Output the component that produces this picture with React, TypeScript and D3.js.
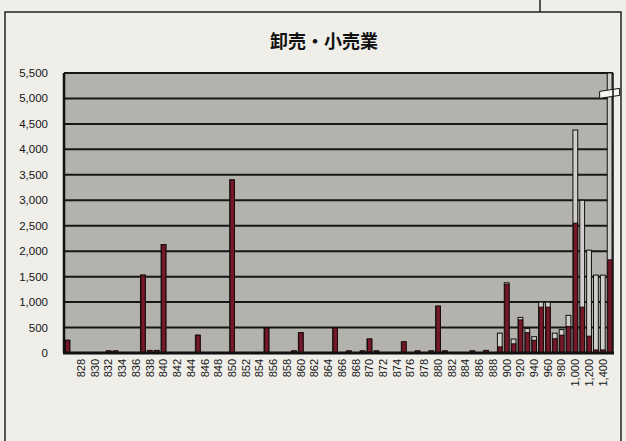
import React, { useEffect, useRef } from 'react';
import * as d3 from 'd3';

// hourly wage bins (yen); first bin has no printed label
const categories = [
  '826', '827', '828', '829', '830', '831', '832', '833', '834', '835',
  '836', '837', '838', '839', '840', '841', '842', '843', '844', '845',
  '846', '847', '848', '849', '850', '851', '852', '853', '854', '855',
  '856', '857', '858', '859', '860', '861', '862', '863', '864', '865',
  '866', '867', '868', '869', '870', '871', '872', '873', '874', '875',
  '876', '877', '878', '879', '880', '881', '882', '883', '884', '885',
  '886', '887', '888', '890', '900', '910', '920', '930', '940', '950',
  '960', '970', '980', '990', '1,000', '1,100', '1,200', '1,300', '1,400', '1,500',
];

const tickLabels = [
  '828', '830', '832', '834', '836', '838', '840', '842', '844', '846',
  '848', '850', '852', '854', '856', '858', '860', '862', '864', '866',
  '868', '870', '872', '874', '876', '878', '880', '882', '884', '886',
  '888', '900', '920', '940', '960', '980', '1,000', '1,200', '1,400',
];

// grey series (drawn behind)
const greyValues = [
  250, 0, 0, 0, 0, 0, 40, 40, 0, 0,
  0, 1530, 50, 50, 2130, 0, 0, 0, 0, 350,
  0, 0, 0, 0, 3400, 0, 0, 0, 0, 490,
  0, 0, 0, 40, 400, 0, 0, 0, 0, 490,
  0, 40, 0, 40, 275, 40, 0, 0, 0, 220,
  0, 40, 0, 40, 920, 40, 0, 0, 0, 40,
  0, 50, 0, 390, 1380, 275, 700, 480, 320, 1000,
  1000, 390, 460, 740, 4380, 3000, 2020, 1530, 1530, 7000,
];

// red series (drawn in front)
const redValues = [
  250, 0, 0, 0, 0, 0, 40, 40, 0, 0,
  0, 1530, 50, 50, 2130, 0, 0, 0, 0, 350,
  0, 0, 0, 0, 3400, 0, 0, 0, 0, 490,
  0, 0, 0, 40, 400, 0, 0, 0, 0, 490,
  0, 40, 0, 40, 275, 40, 0, 0, 0, 220,
  0, 40, 0, 40, 920, 40, 0, 0, 0, 40,
  0, 50, 0, 120, 1350, 180, 650, 400, 250, 900,
  900, 280, 350, 520, 2550, 900, 330, 60, 60, 1830,
];

const yTicks = [0, 500, 1000, 1500, 2000, 2500, 3000, 3500, 4000, 4500, 5000, 5500];

const title = '卸売・小売業';

const App: React.FC = () => {
  const ref = useRef<SVGSVGElement | null>(null);

  useEffect(() => {
    const svg = d3.select(ref.current);
    svg.selectAll('*').remove();
    const width = 626;
    const height = 441;
    const plot = { left: 64, right: 613, top: 73, bottom: 353 };

    svg.append('rect').attr('width', width).attr('height', height).attr('fill', '#efeee9');

    // outer frame
    svg.append('path')
      .attr('d', `M5,441 V12 H540 V0 M540,12 H621 V441`)
      .attr('fill', 'none')
      .attr('stroke', '#222')
      .attr('stroke-width', 1.5);

    svg.append('text')
      .attr('x', 324)
      .attr('y', 48)
      .attr('text-anchor', 'middle')
      .attr('font-family', '"Noto Sans CJK JP", sans-serif')
      .attr('font-size', 18)
      .attr('font-weight', 700)
      .attr('fill', '#111')
      .text(title);

    const x = d3.scaleBand<string>()
      .domain(categories)
      .range([plot.left, plot.right])
      .paddingInner(0.3)
      .paddingOuter(0.14);

    const y = d3.scaleLinear()
      .domain([0, 5500])
      .range([plot.bottom, plot.top]);

    svg.append('rect')
      .attr('x', plot.left)
      .attr('y', plot.top)
      .attr('width', plot.right - plot.left)
      .attr('height', plot.bottom - plot.top)
      .attr('fill', '#b4b2ad');

    // gridlines
    svg.append('g')
      .selectAll('line')
      .data(yTicks.filter(d => d > 0))
      .join('line')
      .attr('x1', plot.left)
      .attr('x2', plot.right)
      .attr('y1', d => y(d))
      .attr('y2', d => y(d))
      .attr('stroke', '#161616')
      .attr('stroke-width', 2);

    // y labels
    svg.append('g')
      .selectAll('text')
      .data(yTicks)
      .join('text')
      .attr('x', 48)
      .attr('y', d => y(d))
      .attr('dy', '0.35em')
      .attr('text-anchor', 'end')
      .attr('font-family', '"Liberation Sans", Arial, sans-serif')
      .attr('font-size', 11.5)
      .attr('fill', '#151515')
      .text(d => d3.format(',')(d));

    const clip = (v: number) => Math.min(v, 5500);

    // grey bars behind
    svg.append('g')
      .selectAll('rect')
      .data(categories)
      .join('rect')
      .attr('x', d => x(d)!)
      .attr('width', x.bandwidth())
      .attr('y', (_, i) => y(clip(greyValues[i])))
      .attr('height', (_, i) => y(0) - y(clip(greyValues[i])))
      .attr('fill', '#cfcecb')
      .attr('stroke', '#111')
      .attr('stroke-width', 1)
      .attr('opacity', (_, i) => (greyValues[i] > 0 ? 1 : 0));

    // red bars in front
    svg.append('g')
      .selectAll('rect')
      .data(categories)
      .join('rect')
      .attr('x', d => x(d)! + 0.5)
      .attr('width', x.bandwidth() - 0.5)
      .attr('y', (_, i) => y(redValues[i]))
      .attr('height', (_, i) => y(0) - y(redValues[i]))
      .attr('fill', '#761828')
      .attr('stroke', '#1a0a0a')
      .attr('stroke-width', 1)
      .attr('opacity', (_, i) => (redValues[i] > 0 ? 1 : 0));

    // break mark on the overflowing bar
    const last = categories[categories.length - 1];
    const bx = x(last)! + x.bandwidth() / 2;
    const by = y(5100);
    svg.append('path')
      .attr('d', `M${bx - 10},${by - 2} L${bx + 10},${by - 5} L${bx + 10},${by + 2} L${bx - 10},${by + 5} Z`)
      .attr('fill', '#f4f4f0')
      .attr('stroke', '#111')
      .attr('stroke-width', 1);

    // axes frame
    svg.append('line')
      .attr('x1', plot.left).attr('x2', plot.left)
      .attr('y1', plot.top).attr('y2', plot.bottom)
      .attr('stroke', '#111').attr('stroke-width', 2.5);
    svg.append('line')
      .attr('x1', plot.right).attr('x2', plot.right)
      .attr('y1', plot.top).attr('y2', plot.bottom)
      .attr('stroke', '#111').attr('stroke-width', 1.5);
    svg.append('line')
      .attr('x1', plot.left - 1).attr('x2', plot.right + 1)
      .attr('y1', plot.bottom).attr('y2', plot.bottom)
      .attr('stroke', '#111').attr('stroke-width', 3);

    // x labels
    svg.append('g')
      .selectAll('text')
      .data(tickLabels)
      .join('text')
      .attr('transform', d => `translate(${x(d)! + x.bandwidth() / 2},${plot.bottom + 6}) rotate(-90)`)
      .attr('dy', '0.35em')
      .attr('text-anchor', 'end')
      .attr('font-family', '"Liberation Sans", Arial, sans-serif')
      .attr('font-size', 11)
      .attr('fill', '#151515')
      .text(d => d);
  }, []);

  return (
    <svg
      ref={ref}
      width={626}
      height={441}
      style={{ position: 'absolute', left: 0, top: 0, display: 'block' }}
    />
  );
};

export default App;
